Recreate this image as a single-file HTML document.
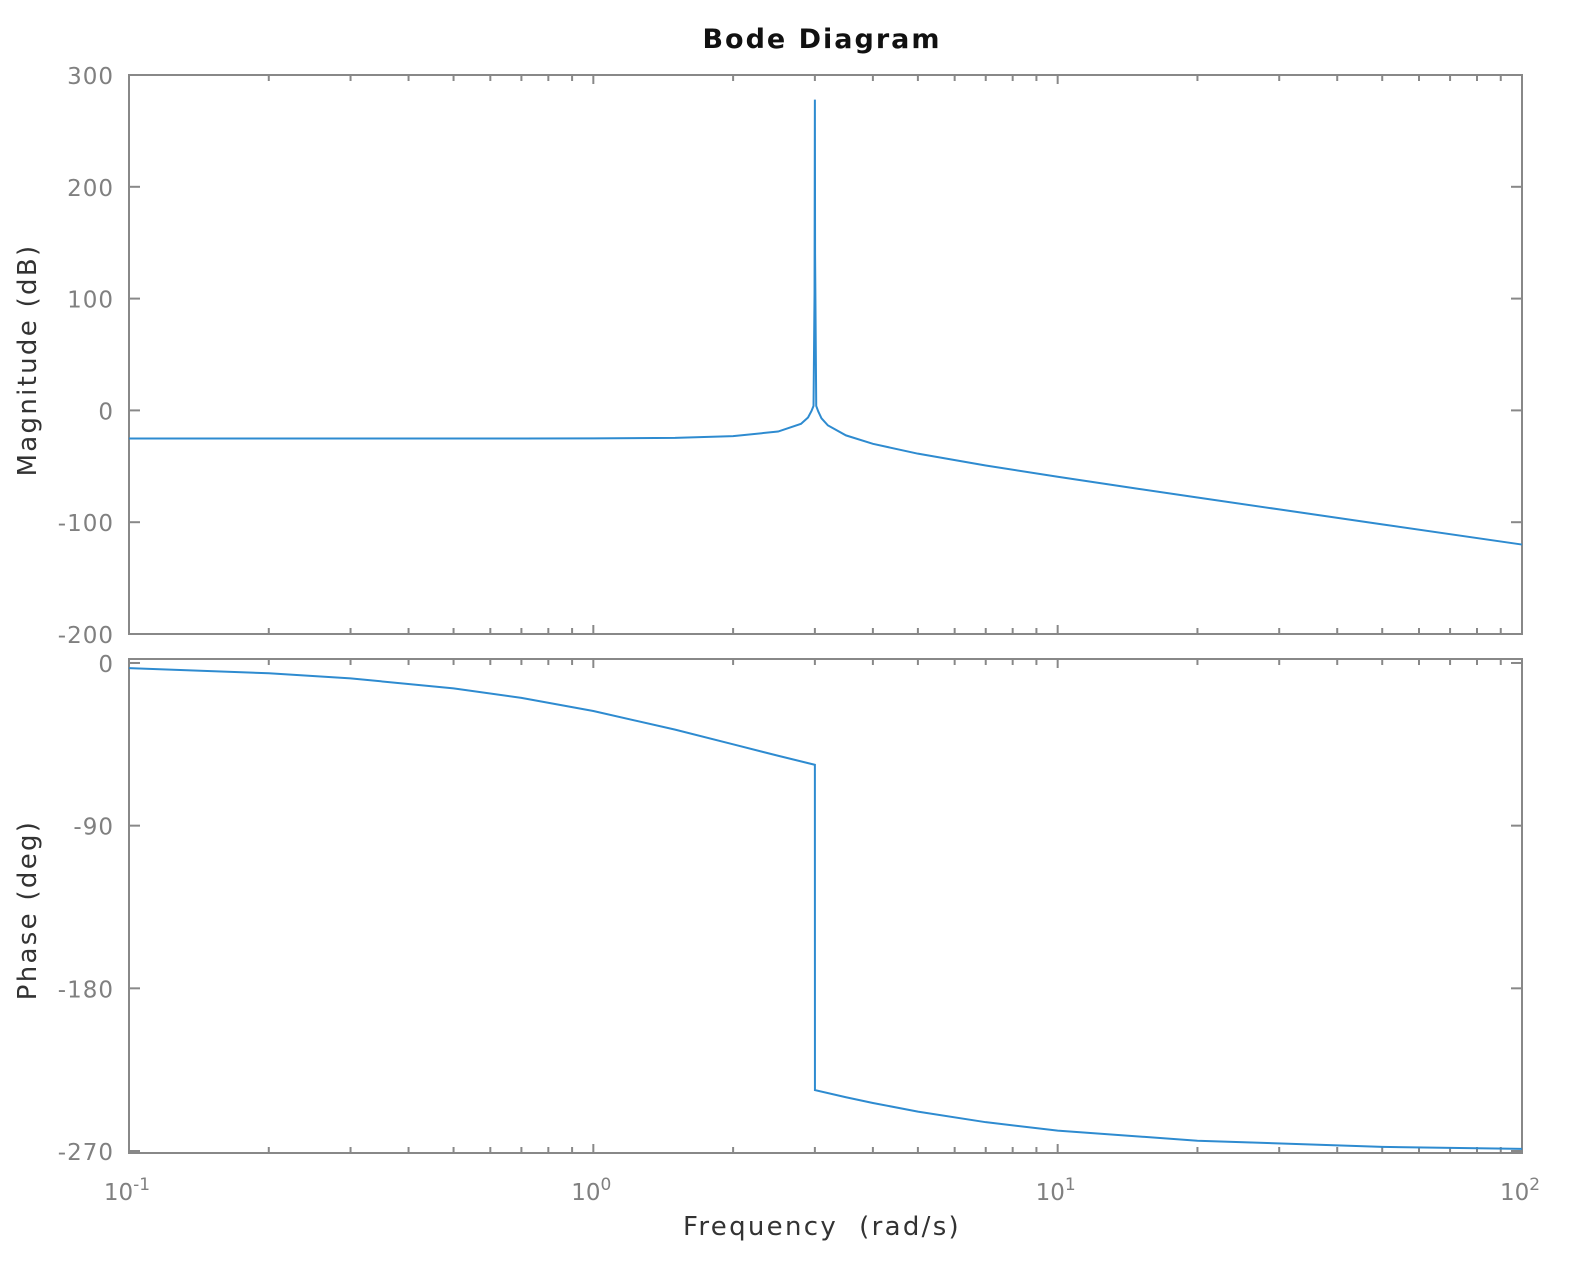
<!DOCTYPE html>
<html><head><meta charset="utf-8"><style>
body{margin:0;background:#fff;}
svg text{font-family:"DejaVu Sans","Liberation Sans",sans-serif;}
</style></head><body>
<svg id="c" width="1586" height="1268" xmlns="http://www.w3.org/2000/svg">
<rect width="1586" height="1268" fill="#fff"/>
<text x="822" y="48" text-anchor="middle" font-size="27" font-weight="bold" letter-spacing="2" fill="#111">Bode Diagram</text>
<text transform="translate(36,360) rotate(-90)" text-anchor="middle" font-size="26" letter-spacing="2.3" fill="#333">Magnitude (dB)</text>
<text transform="translate(36,910) rotate(-90)" text-anchor="middle" font-size="26" letter-spacing="2.3" fill="#333">Phase (deg)</text>
<text x="822" y="1235" text-anchor="middle" font-size="26" letter-spacing="2.3" fill="#333">Frequency &#160;(rad/s)</text>
<g id="g"></g>
</svg>
<script>
const magFreq=[0.1,0.2,0.3,0.5,0.7,1,1.5,2,2.5,2.8,2.9,2.95,2.98,2.995,3.0,3.003,3.02,3.05,3.1,3.2,3.5,4,5,7,10,15,20,30,50,100];
const magDb=[-25.11,-25.11,-25.12,-25.12,-25.12,-25.05,-24.55,-23.01,-18.9,-12.02,-6.36,-0.51,4,105,278,140,4,-0.85,-7.05,-13.41,-22.35,-29.91,-38.7,-49.28,-59.35,-70.3,-77.9,-88.56,-101.92,-120];
const phFreq=[0.1,0.2,0.3,0.5,0.7,1,1.5,2,2.5,2.9,2.99,3.0,3.001,3.5,4,5,7,10,20,50,100];
const phDeg=[-2.86,-5.71,-8.53,-14.04,-19.29,-26.57,-36.87,-45,-51.34,-55.41,-56.22,-56.31,-236.31,-240.26,-243.43,-248.2,-254.05,-258.69,-264.29,-267.71,-268.85];
const magTicks=[300,200,100,0,-100,-200];
const phTicks=[0,-90,-180,-270];
const decades=[-1,0,1,2];

const NS="http://www.w3.org/2000/svg";
const g=document.getElementById('g');
const X0=129,X1=1522;
const xs=w=>X0+(Math.log10(w)+1)/3*(X1-X0);
const pTop={y0:75,y1:634,vmax:300,vmin:-200};
const pBot={y0:659,y1:1153,vmax:2.2,vmin:-271.1};
const ys=(p,v)=>p.y0+(p.vmax-v)/(p.vmax-p.vmin)*(p.y1-p.y0);
function mk(t,a,name){const e=document.createElementNS(NS,t);for(const k in a)e.setAttribute(k,a[k]);


g.appendChild(e);return e;}
function panel(p,ticks,pname){
 mk('rect',{x:X0,y:p.y0,width:X1-X0,height:p.y1-p.y0,fill:'none',stroke:'#888','stroke-width':2},pname+'-frame');
 ticks.forEach(v=>{const y=ys(p,v);
  mk('line',{x1:X0,x2:X0+11,y1:y,y2:y,stroke:'#888','stroke-width':2},pname+'-y-tick');
  mk('line',{x1:X1,x2:X1-11,y1:y,y2:y,stroke:'#888','stroke-width':2},pname+'-y-tick');
  const t=mk('text',{x:X0-15,y:y+9,'text-anchor':'end','font-size':23,'letter-spacing':1,fill:'#808080'},pname+'-y-tick-label');t.textContent=String(v);});
 for(let d=-1;d<2;d++)for(let m=1;m<10;m++){const x=xs(m*Math.pow(10,d));const L=m==1?9:6;
  mk('line',{x1:x,x2:x,y1:p.y0,y2:p.y0+L,stroke:'#888','stroke-width':2},pname+'-x-tick');
  mk('line',{x1:x,x2:x,y1:p.y1,y2:p.y1-L,stroke:'#888','stroke-width':2},pname+'-x-tick');}
}
panel(pTop,magTicks,'magnitude');
panel(pBot,phTicks,'phase');
function line(fr,vals,p,name){let d='';fr.forEach((w,i)=>{d+=(i?'L':'M')+xs(w).toFixed(2)+' '+ys(p,vals[i]).toFixed(2);});
 mk('path',{d:d,fill:'none',stroke:'#2e8bd0','stroke-width':2,'stroke-linejoin':'miter'},name);}
line(magFreq,magDb,pTop,'magnitude-line');
line(phFreq,phDeg,pBot,'phase-line');
decades.forEach(d=>{const x=xs(Math.pow(10,d));
 const t=mk('text',{x:x-2,y:1200,'text-anchor':'middle','font-size':23,fill:'#808080'},'x-tick-label');
 t.textContent='10';const s=document.createElementNS(NS,'tspan');s.setAttribute('dy','-10');s.setAttribute('font-size','17');s.textContent=String(d);t.appendChild(s);});
</script>
</body></html>
